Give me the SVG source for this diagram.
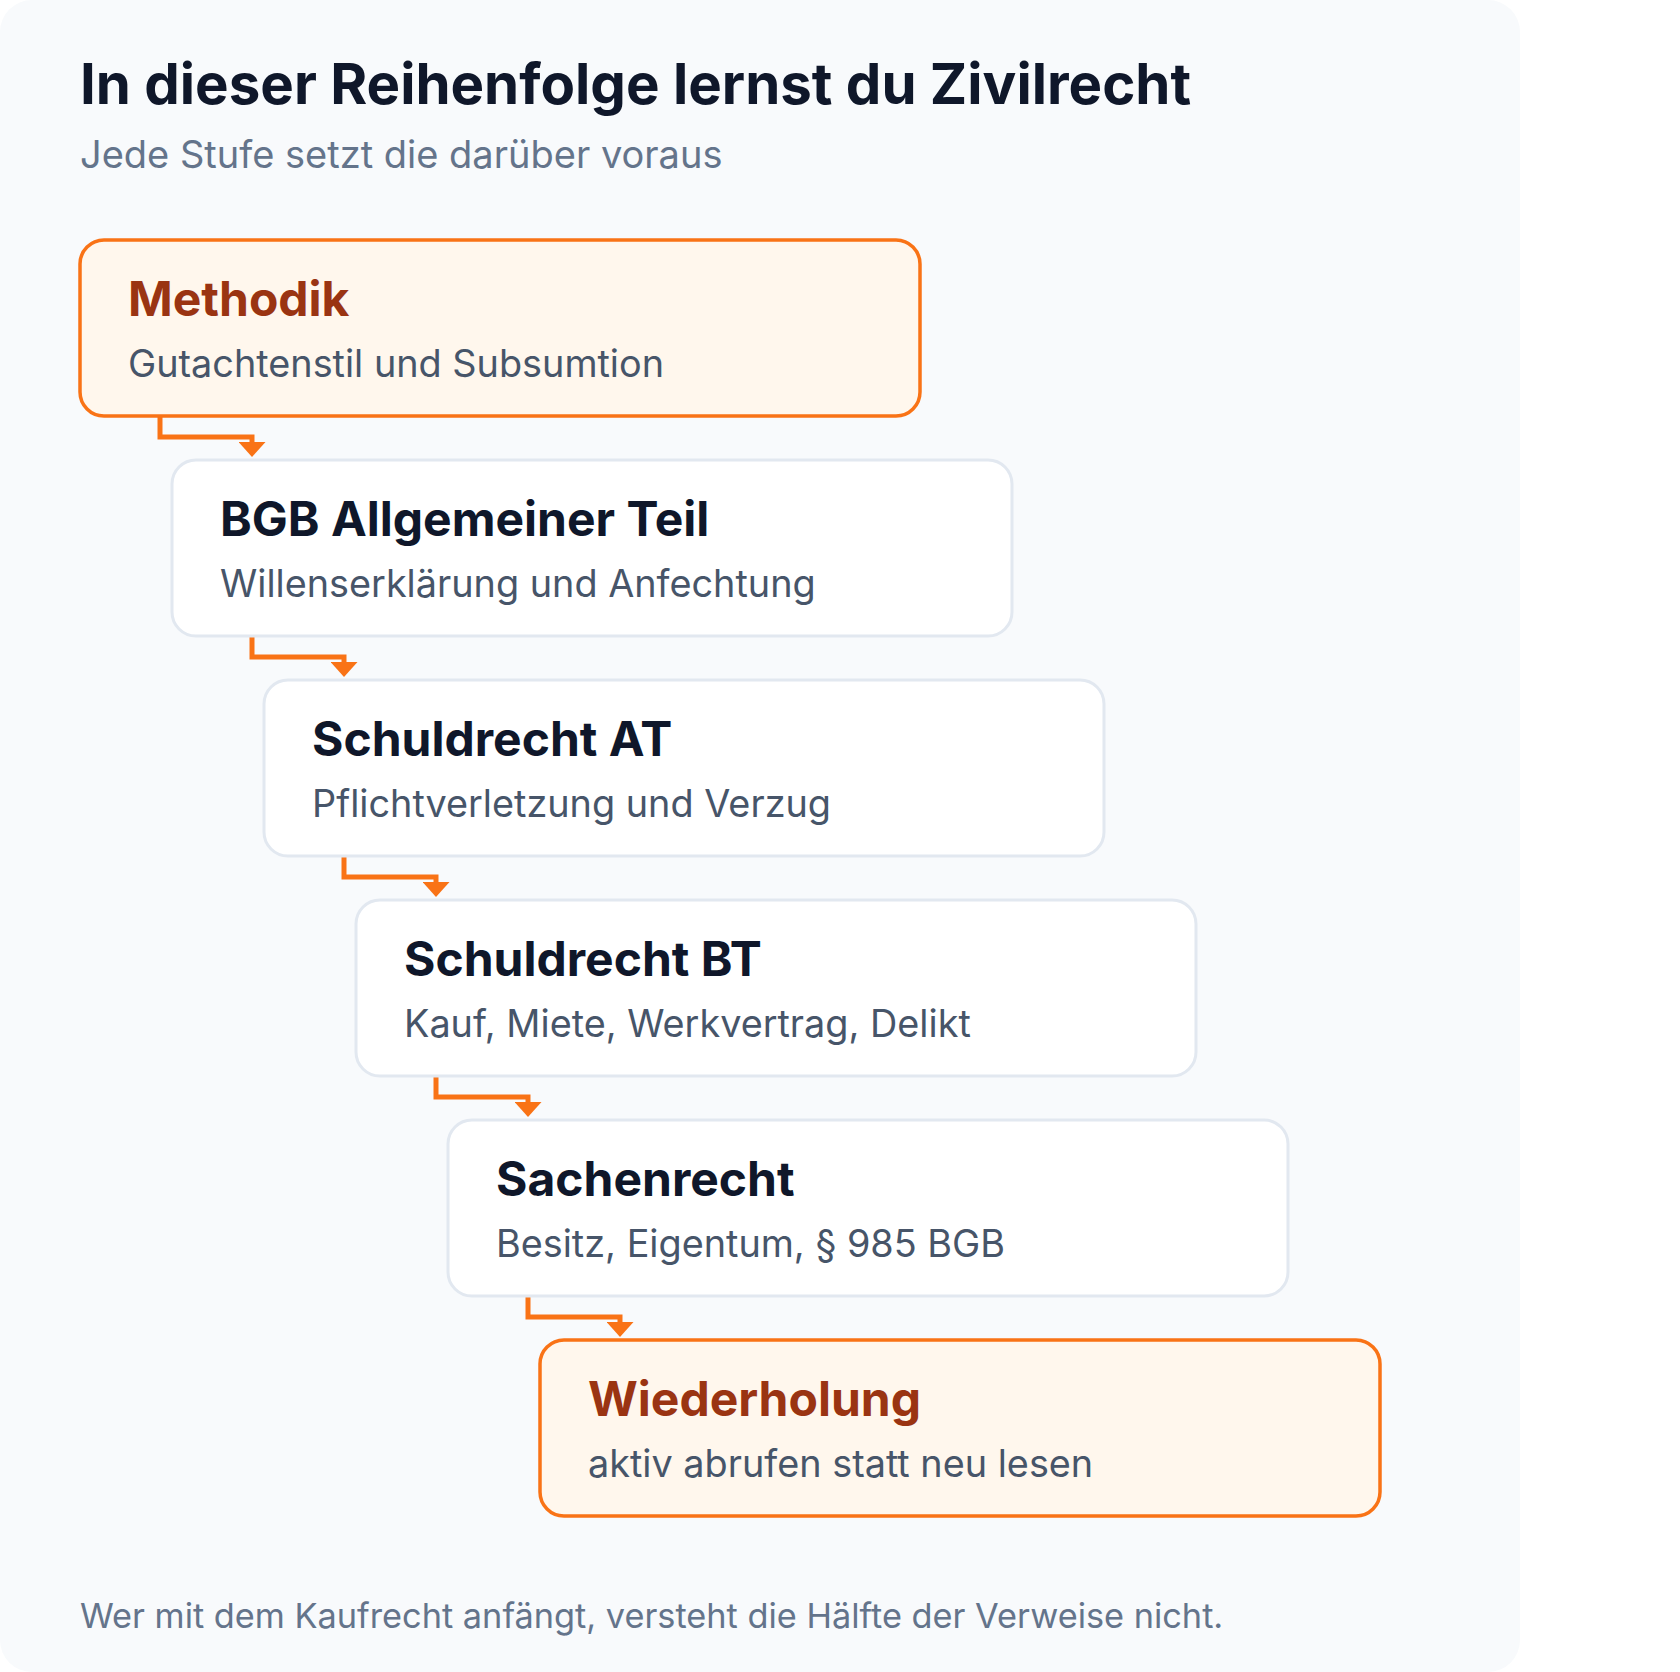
<svg xmlns="http://www.w3.org/2000/svg" width="1680" height="1672" viewBox="0 0 1680 1672">
<defs>
<style>
.card{fill:#f8fafc}
.h1{font-family:Inter,"Noto Sans",sans-serif;font-weight:700;font-size:56.4px;fill:#0f172a}
.sub{font-family:Inter,"Noto Sans",sans-serif;font-size:38px;fill:#64748b}
.box{fill:#ffffff;stroke:#e2e8f0;stroke-width:3}
.boxo{fill:#fff7ed;stroke:#f97316;stroke-width:3.5}
.t{font-family:Inter,"Noto Sans",sans-serif;font-weight:700;font-size:48px;fill:#0f172a}
.to{font-family:Inter,"Noto Sans",sans-serif;font-weight:700;font-size:48px;fill:#9a3412}
.d{font-family:Inter,"Noto Sans",sans-serif;font-size:37.8px;fill:#475569}
.foot{font-family:Inter,"Noto Sans",sans-serif;font-size:34.3px;fill:#64748b}
.c{fill:none;stroke:#f97316;stroke-width:5}
</style>
<marker id="ah" markerUnits="userSpaceOnUse" viewBox="0 0 15 27" refX="0" refY="13.5" markerWidth="15" markerHeight="27" orient="auto">
<path d="M0,0 L15,13.5 L0,27 z" fill="#f97316"/>
</marker>
</defs>
<rect class="card" x="0" y="0" width="1520" height="1672" rx="32"/>
<text class="h1" x="80" y="104">In dieser Reihenfolge lernst du Zivilrecht</text>
<text class="sub" x="80" y="168">Jede Stufe setzt die darüber voraus</text>
<g id="connectors">
<path class="c" d="M160 416 V437 H252 V442" marker-end="url(#ah)"/>
<path class="c" d="M252 636 V657 H344 V662" marker-end="url(#ah)"/>
<path class="c" d="M344 856 V877 H436 V882" marker-end="url(#ah)"/>
<path class="c" d="M436 1076 V1097 H528 V1102" marker-end="url(#ah)"/>
<path class="c" d="M528 1296 V1317 H620 V1322" marker-end="url(#ah)"/>
</g>
<g id="methodik">
<rect class="boxo" x="80" y="240" width="840" height="176" rx="24"/>
<text class="to" x="128" y="316">Methodik</text>
<text class="d" x="128" y="377">Gutachtenstil und Subsumtion</text>
</g>
<g id="bgb-at">
<rect class="box" x="172" y="460" width="840" height="176" rx="24"/>
<text class="t" x="220" y="536">BGB Allgemeiner Teil</text>
<text class="d" x="220" y="597">Willenserklärung und Anfechtung</text>
</g>
<g id="schuldrecht-at">
<rect class="box" x="264" y="680" width="840" height="176" rx="24"/>
<text class="t" x="312" y="756">Schuldrecht AT</text>
<text class="d" x="312" y="817">Pflichtverletzung und Verzug</text>
</g>
<g id="schuldrecht-bt">
<rect class="box" x="356" y="900" width="840" height="176" rx="24"/>
<text class="t" x="404" y="976">Schuldrecht BT</text>
<text class="d" x="404" y="1037">Kauf, Miete, Werkvertrag, Delikt</text>
</g>
<g id="sachenrecht">
<rect class="box" x="448" y="1120" width="840" height="176" rx="24"/>
<text class="t" x="496" y="1196">Sachenrecht</text>
<text class="d" x="496" y="1257">Besitz, Eigentum, § 985 BGB</text>
</g>
<g id="wiederholung">
<rect class="boxo" x="540" y="1340" width="840" height="176" rx="24"/>
<text class="to" x="588" y="1416">Wiederholung</text>
<text class="d" x="588" y="1477">aktiv abrufen statt neu lesen</text>
</g>
<text class="foot" x="80" y="1628">Wer mit dem Kaufrecht anfängt, versteht die Hälfte der Verweise nicht.</text>
</svg>
